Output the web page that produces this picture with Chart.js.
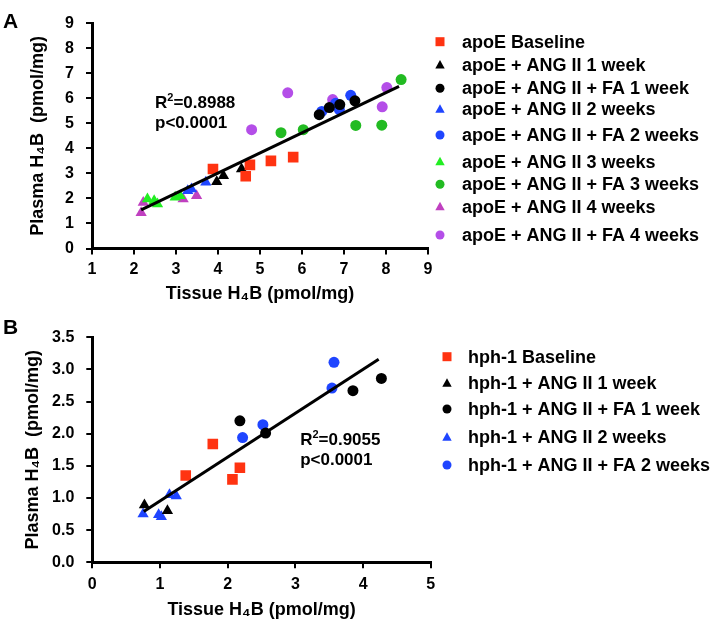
<!DOCTYPE html>
<html>
<head>
<meta charset="utf-8">
<script src="https://cdn.jsdelivr.net/npm/chart.js@4.4.0/dist/chart.umd.min.js"></script>
<style>
  body { margin: 0; background: #fff; }
  #wrap { position: relative; width: 722px; height: 631px; }
  canvas { position: absolute; left: 0; }
</style>
</head>
<body>
<div id="wrap">
  <canvas id="chartA" width="722" height="305" style="top:0px"></canvas>
  <canvas id="chartB" width="722" height="326" style="top:305px"></canvas>
</div>
<script>
// ---- panel A : apoE mice, [tissue, plasma] pairs ----
var apoeBaseline = [[3.88, 3.18], [4.76, 3.34], [4.66, 2.89], [5.26, 3.50], [5.79, 3.65]];
var apoeAng1 = [[3.97, 2.67], [4.13, 2.91], [4.56, 3.18]];
var apoeFa1 = [[6.41, 5.35], [6.65, 5.63], [6.90, 5.75], [7.26, 5.90]];
var apoeAng2 = [[3.28, 2.31], [3.37, 2.38], [3.71, 2.65]];
var apoeFa2 = [[6.47, 5.48], [6.80, 5.80], [6.89, 5.55], [7.16, 6.12]];
var apoeAng3 = [[2.32, 1.98], [2.48, 1.91], [2.56, 1.78], [2.98, 2.05], [3.10, 2.11]];
var apoeFa3 = [[5.50, 4.63], [6.03, 4.75], [7.28, 4.92], [7.90, 4.93], [8.36, 6.75]];
var apoeAng4 = [[2.17, 1.43], [2.22, 1.84], [3.17, 1.98], [3.49, 2.11]];
var apoeFa4 = [[4.80, 4.75], [5.66, 6.22], [6.73, 5.95], [7.91, 5.66], [8.02, 6.43]];
var apoeFit = [[2.17, 1.54], [8.31, 6.48]];

// ---- panel B : hph-1 mice ----
var hphBaseline = [[1.78, 1.84], [1.38, 1.35], [2.07, 1.29], [2.18, 1.47]];
var hphAng1 = [[0.77, 0.89], [1.11, 0.80]];
var hphFa1 = [[2.18, 2.20], [2.56, 2.01], [3.85, 2.67], [4.27, 2.86]];
var hphAng2 = [[0.75, 0.75], [0.98, 0.74], [1.02, 0.71], [1.14, 1.05], [1.24, 1.03]];
var hphFa2 = [[2.22, 1.94], [2.52, 2.14], [3.54, 2.71], [3.57, 3.11]];
var hphFit = [[0.76, 0.79], [4.23, 3.16]];

var labelsA = ['apoE Baseline', 'apoE + ANG II 1 week', 'apoE + ANG II + FA 1 week',
  'apoE + ANG II 2 weeks', 'apoE + ANG II + FA 2 weeks', 'apoE + ANG II 3 weeks',
  'apoE + ANG II + FA 3 weeks', 'apoE + ANG II 4 weeks', 'apoE + ANG II + FA 4 weeks'];
var labelsB = ['hph-1 Baseline', 'hph-1 + ANG II 1 week', 'hph-1 + ANG II + FA 1 week',
  'hph-1 + ANG II 2 weeks', 'hph-1 + ANG II + FA 2 weeks'];
var statsA = ['0.8988', 'p<0.0001'];
var statsB = ['0.9055', 'p<0.0001'];

var FONT = 'Arial, "Liberation Sans", Helvetica, sans-serif';
var RED = '#ff3311', BLACK = '#000000', BLUE = '#1f45ff';
var GREEN_T = '#22ee22', GREEN_C = '#22bb22', MAGENTA = '#c040c0', PURPLE = '#b44ee8';

function toXY(arr) {
  return arr.map(function (p) { return { x: p[0], y: p[1] }; });
}

function series(label, data, color, style) {
  var r = style === 'rect' ? 7.5 : (style === 'triangle' ? 6.5 : 5.5);
  return {
    label: label, data: toXY(data), pointStyle: style,
    backgroundColor: color, borderColor: color, borderWidth: 0, pointRadius: r
  };
}

function fitLine(data) {
  return {
    type: 'line', label: '', data: toXY(data), borderColor: '#000', borderWidth: 3,
    pointRadius: 0, showLine: true, fill: false, isFit: true
  };
}

// small markers for the legend
function drawMarker(ctx, style, x, y, color) {
  ctx.fillStyle = color;
  ctx.beginPath();
  if (style === 'rect') {
    ctx.rect(x - 4.5, y - 4.5, 9, 9);
  } else if (style === 'triangle') {
    ctx.moveTo(x, y - 5);
    ctx.lineTo(x + 4.7, y + 3.5);
    ctx.lineTo(x - 4.7, y + 3.5);
    ctx.closePath();
  } else {
    ctx.arc(x, y, 4.5, 0, Math.PI * 2);
  }
  ctx.fill();
}

var sideLegend = {
  id: 'sideLegend',
  afterDraw: function (chart, args, opts) {
    var ctx = chart.ctx;
    var sets = chart.data.datasets.filter(function (d) { return !d.isFit; });
    ctx.save();
    ctx.font = 'bold 18px ' + FONT;
    ctx.textBaseline = 'middle';
    sets.forEach(function (ds, i) {
      var y = opts.rows[i];
      drawMarker(ctx, ds.pointStyle, opts.markerX, y, ds.backgroundColor);
      ctx.fillStyle = '#000';
      ctx.fillText(ds.label, opts.textX, y + 1);
    });
    ctx.restore();
  }
};

var fitText = {
  id: 'fitText',
  afterDraw: function (chart, args, opts) {
    var ctx = chart.ctx;
    var x = chart.scales.x.getPixelForValue(opts.x);
    var y = chart.scales.y.getPixelForValue(opts.y);
    ctx.save();
    ctx.fillStyle = '#000';
    ctx.textBaseline = 'alphabetic';
    ctx.font = 'bold 17px ' + FONT;
    ctx.fillText('R', x, y);
    var w = ctx.measureText('R').width;
    ctx.font = 'bold 11px ' + FONT;
    ctx.fillText('2', x + w, y - 7);
    var w2 = ctx.measureText('2').width;
    ctx.font = 'bold 17px ' + FONT;
    ctx.fillText('=' + opts.lines[0], x + w + w2, y);
    ctx.fillText(opts.lines[1], x, y + 20);
    ctx.font = 'bold 21px ' + FONT;
    ctx.fillText(opts.panel, 3, opts.panelY);
    ctx.restore();
  }
};

function axis(min, max, step, dec, tickPad) {
  return {
    type: 'linear', min: min, max: max,
    ticks: {
      stepSize: step, color: '#000', padding: tickPad,
      font: { family: FONT, size: 16, weight: 'bold' },
      callback: function (v) { return v.toFixed(dec); }
    },
    grid: { display: true, drawOnChartArea: false, drawTicks: true, tickLength: 6, color: '#000', lineWidth: 2 },
    border: { display: true, color: '#000', width: 3 }
  };
}

function makeChart(id, datasets, o) {
  var xs = axis(o.xmin, o.xmax, 1, 0, o.xPad);
  xs.title = { display: true, text: 'Tissue H\u2084B (pmol/mg)', color: '#000',
    font: { family: FONT, size: 18, weight: 'bold' }, padding: { top: 0, bottom: o.xTitlePad } };
  xs.afterFit = function (s) { s.height = o.xHeight; };
  var ys = axis(o.ymin, o.ymax, o.ystep, o.ydec, 12);
  ys.title = { display: true, text: 'Plasma H\u2084B  (pmol/mg)', color: '#000',
    font: { family: FONT, size: 18, weight: 'bold' }, padding: { top: o.yTitlePad, bottom: 0 } };
  ys.afterFit = function (s) { s.width = o.left; };

  return new Chart(document.getElementById(id), {
    type: 'scatter',
    data: { datasets: datasets },
    options: {
      responsive: false, animation: false, events: [],
      layout: { padding: { left: 0, top: o.top, right: o.right, bottom: 0 } },
      scales: { x: xs, y: ys },
      plugins: {
        legend: { display: false }, tooltip: { enabled: false },
        sideLegend: o.legend, fitText: o.text
      }
    },
    plugins: [sideLegend, fitText]
  });
}

makeChart('chartA', [
  fitLine(apoeFit),
  series(labelsA[0], apoeBaseline, RED, 'rect'),
  series(labelsA[1], apoeAng1, BLACK, 'triangle'),
  series(labelsA[2], apoeFa1, BLACK, 'circle'),
  series(labelsA[3], apoeAng2, BLUE, 'triangle'),
  series(labelsA[4], apoeFa2, BLUE, 'circle'),
  series(labelsA[5], apoeAng3, GREEN_T, 'triangle'),
  series(labelsA[6], apoeFa3, GREEN_C, 'circle'),
  series(labelsA[7], apoeAng4, MAGENTA, 'triangle'),
  series(labelsA[8], apoeFa4, PURPLE, 'circle')
], {
  xmin: 1, xmax: 9, ymin: 0, ymax: 9, ystep: 1, ydec: 0,
  left: 92, right: 294, top: 23.3, xHeight: 56.5, xPad: 5, xTitlePad: 0.5, yTitlePad: 27.5,
  legend: { markerX: 440, textX: 462, rows: [41.7, 65, 88.3, 109.3, 135, 161.7, 184.3, 206.7, 235] },
  text: { x: 2.5, y: 5.62, lines: statsA, panel: 'A', panelY: 28 }
});

makeChart('chartB', [
  fitLine(hphFit),
  series(labelsB[0], hphBaseline, RED, 'rect'),
  series(labelsB[1], hphAng1, BLACK, 'triangle'),
  series(labelsB[2], hphFa1, BLACK, 'circle'),
  series(labelsB[3], hphAng2, BLUE, 'triangle'),
  series(labelsB[4], hphFa2, BLUE, 'circle')
], {
  xmin: 0, xmax: 5, ymin: 0, ymax: 3.5, ystep: 0.5, ydec: 1,
  left: 92.3, right: 291.2, top: 32.3, xHeight: 68.7, xPad: 7, xTitlePad: 10.4, yTitlePad: 22.5,
  legend: { markerX: 447, textX: 468, rows: [51.7, 78.3, 104, 132.3, 160] },
  text: { x: 3.07, y: 1.82, lines: statsB, panel: 'B', panelY: 29 }
});
</script>
</body>
</html>
